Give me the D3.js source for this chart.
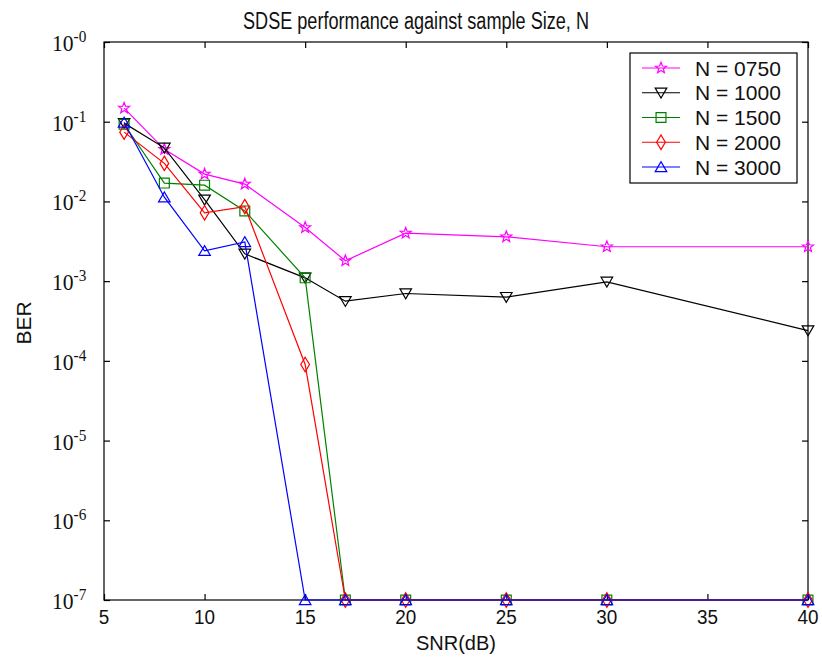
<!DOCTYPE html>
<html><head><meta charset="utf-8">
<script src="https://cdn.jsdelivr.net/npm/d3@7"></script>
<style>
html,body{margin:0;padding:0;background:#fff;}
svg{display:block;}
</style></head>
<body>
<svg id="chart" width="822" height="657"></svg>
<script>
// ---------- data ----------
const snr = [6, 8, 10, 12, 15, 17, 20, 25, 30, 40];
const seriesNames = ["N = 0750", "N = 1000", "N = 1500", "N = 2000", "N = 3000"];
const berN0750 = [0.148, 0.045, 0.022, 0.0165, 0.0047, 0.0018, 0.0040, 0.0036, 0.0027, 0.0027];
const berN1000 = [0.096, 0.047, 0.0105, 0.0022, 0.0011, 0.00056, 0.00070, 0.00063, 0.00098, 0.00024];
const berN1500 = [0.093, 0.017, 0.016, 0.0076, 0.0011, 1e-7, 1e-7, 1e-7, 1e-7, 1e-7];
const berN2000 = [0.074, 0.030, 0.0072, 0.0086, 0.00009, 1e-7, 1e-7, 1e-7, 1e-7, 1e-7];
const berN3000 = [0.098, 0.0113, 0.0024, 0.0031, 1e-7, 1e-7, 1e-7, 1e-7, 1e-7, 1e-7];
const xTicks = [5, 10, 15, 20, 25, 30, 35, 40];
const yTickExps = [0, -1, -2, -3, -4, -5, -6, -7];
const titleText = "SDSE performance against sample Size, N";
const xLabel = "SNR(dB)";
const yLabel = "BER";

const colors = ["#ff00ff", "#000000", "#008000", "#ff0000", "#0000ff"];
const markers = ["star", "triDown", "square", "diamond", "triUp"];
const allSeries = [berN0750, berN1000, berN1500, berN2000, berN3000];

// ---------- layout ----------
const L = 104, R = 808, T = 42, B = 600;
const svg = d3.select("#chart");
const x = d3.scaleLinear().domain([5, 40]).range([L, R]);
const y = d3.scaleLog().domain([1e-7, 1]).range([B, T]);

// ---------- marker shapes ----------
const shapes = {
  star: { draw(ctx, r) {
    const ri = r * 0.42;
    for (let i = 0; i < 10; i++) {
      const a = -Math.PI / 2 + i * Math.PI / 5;
      const rr = i % 2 ? ri : r;
      const px = rr * Math.cos(a), py = rr * Math.sin(a);
      i ? ctx.lineTo(px, py) : ctx.moveTo(px, py);
    }
    ctx.closePath();
  }},
  triDown: { draw(ctx, r) {
    ctx.moveTo(-r, -r * 0.8); ctx.lineTo(r, -r * 0.8); ctx.lineTo(0, r * 0.9); ctx.closePath();
  }},
  triUp: { draw(ctx, r) {
    ctx.moveTo(-r, r * 0.8); ctx.lineTo(r, r * 0.8); ctx.lineTo(0, -r * 0.9); ctx.closePath();
  }},
  square: { draw(ctx, r) {
    const s = r * 0.85;
    ctx.moveTo(-s, -s); ctx.lineTo(s, -s); ctx.lineTo(s, s); ctx.lineTo(-s, s); ctx.closePath();
  }},
  diamond: { draw(ctx, r) {
    ctx.moveTo(0, -r * 1.25); ctx.lineTo(r * 0.75, 0); ctx.lineTo(0, r * 1.25); ctx.lineTo(-r * 0.75, 0); ctx.closePath();
  }}
};
const markerSize = 5.8;
const sym = name => d3.symbol().type(shapes[name]).size(markerSize)();

// ---------- title ----------
svg.append("text")
  .attr("x", 416).attr("y", 29)
  .attr("text-anchor", "middle")
  .attr("font-family", "Liberation Sans, Arial, sans-serif")
  .attr("font-size", 23)
  .attr("textLength", 346).attr("lengthAdjust", "spacingAndGlyphs")
  .attr("fill", "#111")
  .text(titleText);

// ---------- axes box ----------
svg.append("rect").attr("x", L).attr("y", T).attr("width", R - L).attr("height", B - T)
  .attr("fill", "#fff").attr("stroke", "#000").attr("stroke-width", 1.2);

// x ticks (bottom & top, inward)
const xAxisB = d3.axisBottom(x).tickValues(xTicks).tickSizeInner(-6).tickSizeOuter(0).tickFormat("");
const xAxisT = d3.axisTop(x).tickValues(xTicks).tickSizeInner(-6).tickSizeOuter(0).tickFormat("");
svg.append("g").attr("transform", `translate(0,${B})`).call(xAxisB).call(g => g.select(".domain").remove());
svg.append("g").attr("transform", `translate(0,${T})`).call(xAxisT).call(g => g.select(".domain").remove());
const yVals = yTickExps.map(e => Math.pow(10, e));
const yAxisL = d3.axisLeft(y).tickValues(yVals).tickSizeInner(-6).tickSizeOuter(0).tickFormat("");
const yAxisR = d3.axisRight(y).tickValues(yVals).tickSizeInner(-6).tickSizeOuter(0).tickFormat("");
svg.append("g").attr("transform", `translate(${L},0)`).call(yAxisL).call(g => g.select(".domain").remove());
svg.append("g").attr("transform", `translate(${R},0)`).call(yAxisR).call(g => g.select(".domain").remove());
svg.selectAll(".tick line").attr("stroke", "#000").attr("stroke-width", 1.2);

// x tick labels
svg.append("g").selectAll("text").data(xTicks).join("text")
  .attr("transform", d => `translate(${x(d)},624) scale(0.9,1)`)
  .attr("text-anchor", "middle")
  .attr("font-family", "Liberation Sans, Arial, sans-serif")
  .attr("font-size", 21)
  .attr("fill", "#111")
  .text(d => d);

// y tick labels (10^-n)
const yl = svg.append("g").selectAll("text").data(yTickExps).join("text")
  .attr("transform", e => `translate(52,${y(Math.pow(10, e)) + 9}) scale(0.9,1)`)
  .attr("font-family", "Liberation Serif, Times New Roman, serif")
  .attr("font-size", 24)
  .attr("fill", "#111");
yl.append("tspan").text("10");
yl.append("tspan").attr("dy", -9).attr("font-size", 17).text(e => "-" + Math.abs(e));

// axis labels
svg.append("text")
  .attr("x", 456).attr("y", 650)
  .attr("text-anchor", "middle")
  .attr("font-family", "Liberation Sans, Arial, sans-serif")
  .attr("font-size", 20)
  .attr("fill", "#111")
  .text(xLabel);
svg.append("text")
  .attr("transform", "translate(31,323) rotate(-90)")
  .attr("text-anchor", "middle")
  .attr("font-family", "Liberation Sans, Arial, sans-serif")
  .attr("font-size", 21)
  .attr("fill", "#111")
  .text(yLabel);

// ---------- series ----------
const line = d3.line().x(d => x(d[0])).y(d => y(d[1]));
allSeries.forEach((vals, i) => {
  const pts = snr.map((s, k) => [s, vals[k]]);
  const g = svg.append("g");
  g.append("path").attr("d", line(pts)).attr("fill", "none")
    .attr("stroke", colors[i]).attr("stroke-width", 1.2);
  g.selectAll("path.m").data(pts).join("path").attr("class", "m")
    .attr("transform", d => `translate(${x(d[0])},${y(d[1])})`)
    .attr("d", sym(markers[i]))
    .attr("fill", "none").attr("stroke", colors[i]).attr("stroke-width", 1.2);
});

// ---------- legend ----------
const lg = svg.append("g");
lg.append("rect").attr("x", 630).attr("y", 53).attr("width", 167).attr("height", 130)
  .attr("fill", "#fff").attr("stroke", "#000").attr("stroke-width", 1.2);
seriesNames.forEach((name, i) => {
  const yy = 68 + i * 24.75;
  lg.append("line").attr("x1", 642).attr("x2", 680).attr("y1", yy).attr("y2", yy)
    .attr("stroke", colors[i]).attr("stroke-width", 1.2);
  lg.append("path").attr("transform", `translate(661,${yy})`).attr("d", sym(markers[i]))
    .attr("fill", "none").attr("stroke", colors[i]).attr("stroke-width", 1.2);
  lg.append("text").attr("x", 695).attr("y", yy + 7.5)
    .attr("font-family", "Liberation Sans, Arial, sans-serif")
    .attr("font-size", 21).attr("fill", "#111")
    .text(name);
});
</script>
</body></html>
